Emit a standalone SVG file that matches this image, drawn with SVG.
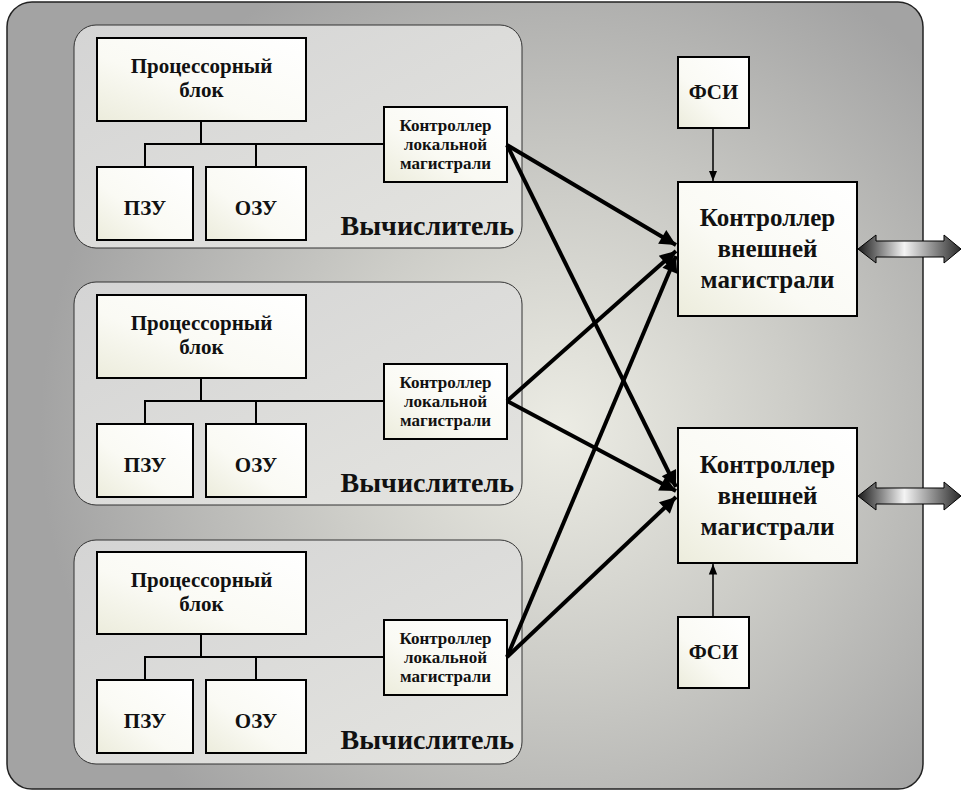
<svg xmlns="http://www.w3.org/2000/svg" width="962" height="791" viewBox="0 0 962 791">
<defs>
<radialGradient id="bg" gradientUnits="userSpaceOnUse" cx="560" cy="430" r="520">
<stop offset="0" stop-color="#ecece4"/>
<stop offset="0.45" stop-color="#cdcdc8"/>
<stop offset="1" stop-color="#a3a3a3"/>
</radialGradient>
<linearGradient id="blk" x1="0" y1="0" x2="1" y2="1">
<stop offset="0" stop-color="#d4d4d4"/>
<stop offset="1" stop-color="#e4e4e0"/>
</linearGradient>
<linearGradient id="box" x1="1" y1="0" x2="0" y2="1">
<stop offset="0" stop-color="#ffffff"/>
<stop offset="0.6" stop-color="#fafaf4"/>
<stop offset="1" stop-color="#ececdc"/>
</linearGradient>
<linearGradient id="bus" x1="0" y1="0" x2="1" y2="0">
<stop offset="0" stop-color="#1a1a1a"/>
<stop offset="0.45" stop-color="#f4f4f4"/>
<stop offset="1" stop-color="#2a2a2a"/>
</linearGradient>
<marker id="ah" viewBox="0 0 10 10" refX="10" refY="5" markerWidth="5" markerHeight="4" markerUnits="strokeWidth" orient="auto">
<path d="M0,0 L10,5 L0,10 z" fill="#000"/>
</marker>
<marker id="ahs" viewBox="0 0 10 10" refX="10" refY="5" markerWidth="7" markerHeight="7" markerUnits="strokeWidth" orient="auto">
<path d="M0,1 L10,5 L0,9 z" fill="#000"/>
</marker>
</defs>
<style>
.box{fill:url(#box);stroke:#000;stroke-width:2}
.blk{fill:url(#blk);stroke:#333;stroke-width:1}
.t{font-family:"Liberation Serif","Times New Roman","DejaVu Serif",serif;font-weight:bold;fill:#111;text-anchor:middle}
.p{font-size:21px}
.c{font-size:17px}
.e{font-size:25px}
.v{font-size:28px;text-anchor:end}
.ln{stroke:#000;stroke-width:2;fill:none}
.ar{stroke:#000;stroke-width:4;fill:none;marker-end:url(#ah)}
.thin{stroke:#000;stroke-width:1.5;fill:none;marker-end:url(#ahs)}
.dbl{fill:url(#bus);stroke:#000;stroke-width:1}
</style>
<rect x="7" y="2" width="916" height="787" rx="25" fill="url(#bg)" stroke="#222" stroke-width="1.5"/>

<g id="comp1">
<rect class="blk" x="74" y="25" width="448" height="223" rx="22"/>
<rect class="box" x="97" y="38" width="209" height="83"/>
<text class="t p" x="201.5" y="73">Процессорный</text>
<text class="t p" x="201.5" y="97">блок</text>
<rect class="box" x="97" y="167" width="96" height="73"/>
<text class="t p" x="145" y="215">ПЗУ</text>
<rect class="box" x="206" y="167" width="100" height="73"/>
<text class="t p" x="256" y="215">ОЗУ</text>
<rect class="box" x="384" y="107" width="123" height="75"/>
<text class="t c" x="445.5" y="131">Контроллер</text>
<text class="t c" x="445.5" y="150">локальной</text>
<text class="t c" x="445.5" y="169">магистрали</text>
<text class="t v" x="514" y="235">Вычислитель</text>
<path class="ln" d="M201,121 V144 M145,167 V144 H384 M256,144 V167"/>
</g>

<g id="comp2">
<rect class="blk" x="74" y="282" width="448" height="223" rx="22"/>
<rect class="box" x="97" y="295" width="209" height="83"/>
<text class="t p" x="201.5" y="330">Процессорный</text>
<text class="t p" x="201.5" y="354">блок</text>
<rect class="box" x="97" y="424" width="96" height="73"/>
<text class="t p" x="145" y="472">ПЗУ</text>
<rect class="box" x="206" y="424" width="100" height="73"/>
<text class="t p" x="256" y="472">ОЗУ</text>
<rect class="box" x="384" y="364" width="123" height="75"/>
<text class="t c" x="445.5" y="388">Контроллер</text>
<text class="t c" x="445.5" y="407">локальной</text>
<text class="t c" x="445.5" y="426">магистрали</text>
<text class="t v" x="514" y="492">Вычислитель</text>
<path class="ln" d="M201,378 V401 M145,424 V401 H384 M256,401 V424"/>
</g>

<g id="comp3">
<rect class="blk" x="74" y="540" width="448" height="224" rx="22"/>
<rect class="box" x="97" y="552" width="209" height="82"/>
<text class="t p" x="201.5" y="587">Процессорный</text>
<text class="t p" x="201.5" y="611">блок</text>
<rect class="box" x="97" y="680" width="96" height="73"/>
<text class="t p" x="145" y="728">ПЗУ</text>
<rect class="box" x="206" y="680" width="100" height="73"/>
<text class="t p" x="256" y="728">ОЗУ</text>
<rect class="box" x="384" y="620" width="123" height="75"/>
<text class="t c" x="445.5" y="644">Контроллер</text>
<text class="t c" x="445.5" y="663">локальной</text>
<text class="t c" x="445.5" y="682">магистрали</text>
<text class="t v" x="514" y="749">Вычислитель</text>
<path class="ln" d="M201,634 V657 M145,680 V657 H384 M256,657 V680"/>
</g>

<g id="fsi1">
<rect class="box" x="678" y="57" width="71" height="71"/>
<text class="t p" x="713.5" y="99">ФСИ</text>
</g>
<g id="ext1">
<rect class="box" x="678" y="182" width="179" height="134"/>
<text class="t e" x="767.5" y="226">Контроллер</text>
<text class="t e" x="767.5" y="257">внешней</text>
<text class="t e" x="767.5" y="288">магистрали</text>
</g>
<g id="ext2">
<rect class="box" x="678" y="428" width="179" height="135"/>
<text class="t e" x="767.5" y="473">Контроллер</text>
<text class="t e" x="767.5" y="504">внешней</text>
<text class="t e" x="767.5" y="535">магистрали</text>
</g>
<g id="fsi2">
<rect class="box" x="678" y="617" width="71" height="71"/>
<text class="t p" x="713.5" y="659">ФСИ</text>
</g>

<g id="connectors">
<path class="ar" d="M507,145 L676,245"/>
<path class="ar" d="M507,401 L676,251"/>
<path class="ar" d="M507,657 L676,256"/>
<path class="ar" d="M507,145 L676,487"/>
<path class="ar" d="M507,401 L676,491"/>
<path class="ar" d="M507,657 L676,497"/>
<path class="thin" d="M713,128 V181"/>
<path class="thin" d="M713,617 V564"/>
<polygon class="dbl" points="858,249 876,235 876,241 944,241 944,235 961,249 944,263 944,257 876,257 876,263"/>
<polygon class="dbl" points="858,496 876,482 876,488 944,488 944,482 961,496 944,510 944,504 876,504 876,510"/>
</g>
</svg>
